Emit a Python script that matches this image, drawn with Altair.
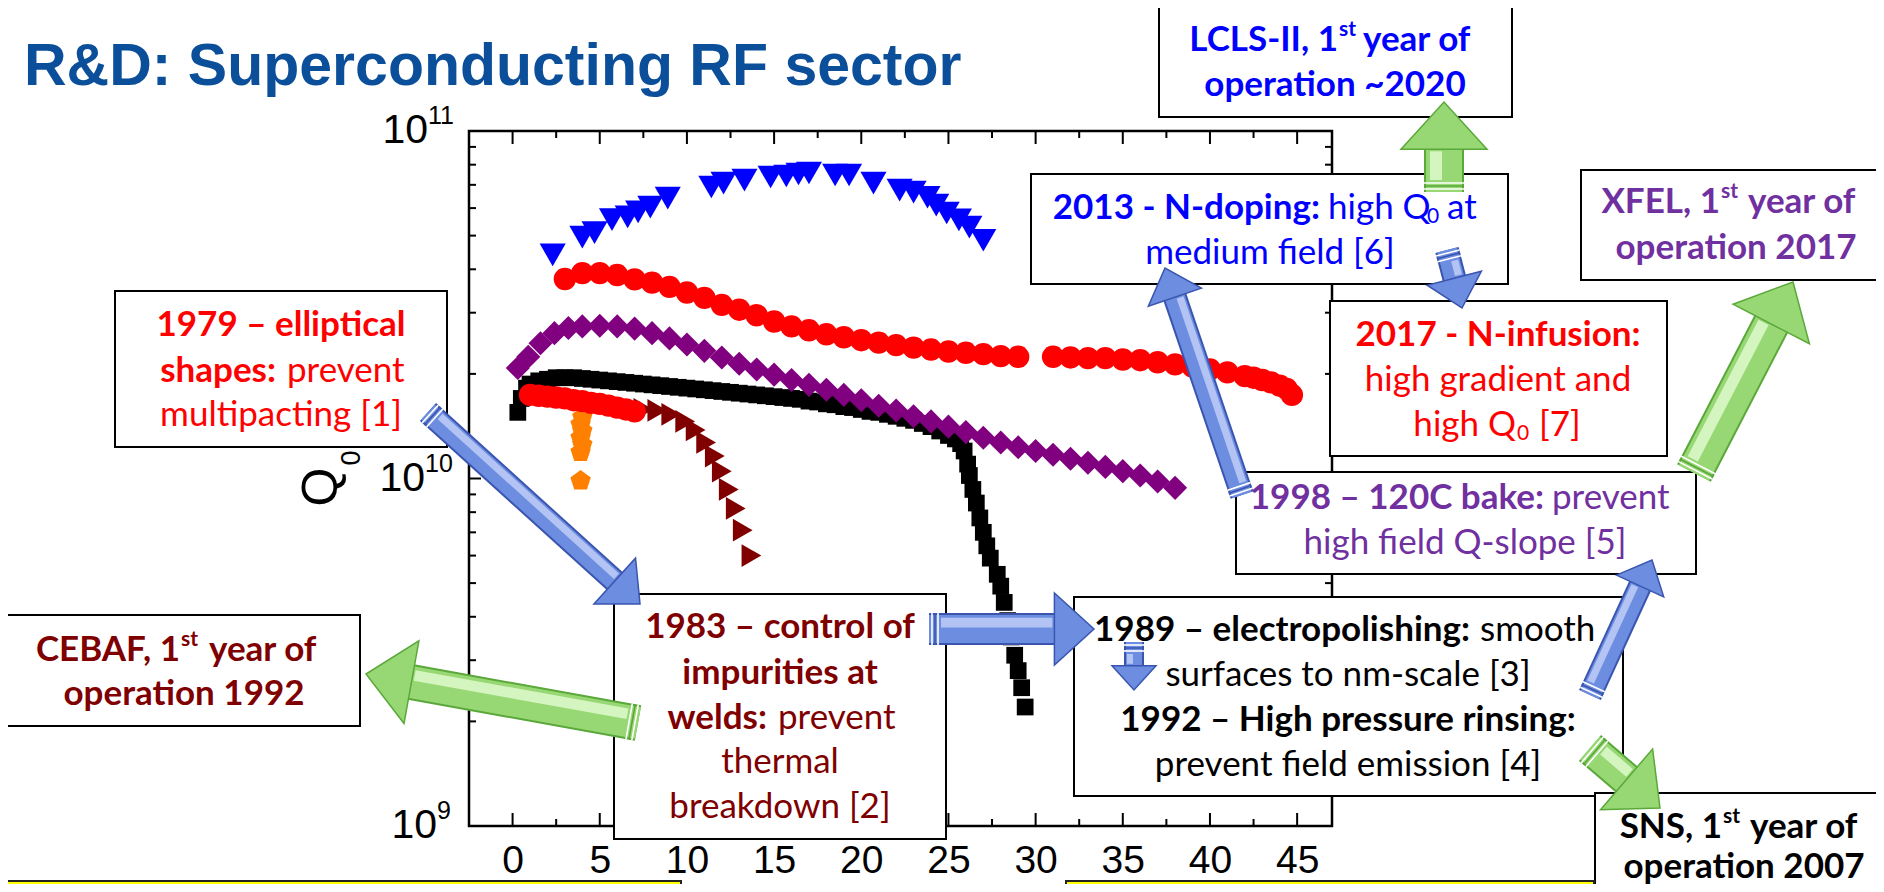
import math
import altair as alt
import pandas as pd

# ---------------- data (Q in units of 1e10) ----------------
UNIT = 1e10

blue_E = [2.3, 4.0, 4.7, 5.7, 6.6, 7.2, 7.9, 8.9, 11.4, 12.1, 13.3, 14.8, 15.7, 16.4, 17.0,
          18.5, 19.3, 20.7, 22.2, 23.0, 23.8, 24.3, 24.9, 25.6, 26.2, 27.0]
blue_Q = [4.40, 4.95, 5.10, 5.56, 5.66, 5.85, 6.04, 6.41, 6.90, 7.08, 7.22, 7.37, 7.42, 7.52, 7.57,
          7.47, 7.47, 7.08, 6.76, 6.67, 6.45, 6.12, 5.81, 5.55, 5.29, 4.85]

red_hi_E = [3, 4, 5, 6, 7, 8, 9, 10, 11, 12, 13, 14, 15, 16, 17, 18, 19, 20, 21, 22, 23, 24, 25,
            26, 27, 28, 29, 31, 32, 33, 34, 35, 36, 37, 38, 39, 40, 41, 42, 42.5, 43, 43.5, 44,
            44.4, 44.7]
red_hi_Q = [3.75, 3.90, 3.90, 3.85, 3.74, 3.66, 3.56, 3.43, 3.31, 3.16, 3.06, 2.95, 2.83, 2.74,
            2.67, 2.60, 2.55, 2.50, 2.46, 2.42, 2.38, 2.35, 2.32, 2.30, 2.28, 2.25, 2.24, 2.24,
            2.23, 2.22, 2.22, 2.20, 2.19, 2.16, 2.13, 2.10, 2.06, 2.02, 1.97, 1.95, 1.92, 1.89,
            1.85, 1.81, 1.74]

purple_E = [0.3, 0.9, 1.6, 2.4, 3.2, 4, 5, 6, 7, 8, 9, 10, 11, 12, 13, 14, 15, 16, 17, 18, 19,
            20, 21, 22, 23, 24, 25, 26, 27, 28, 29, 30, 31, 32, 33, 34, 35, 36, 37, 38]
purple_Q = [2.08, 2.24, 2.45, 2.62, 2.71, 2.74, 2.75, 2.74, 2.70, 2.62, 2.53, 2.43, 2.33, 2.23,
            2.14, 2.06, 1.99, 1.92, 1.86, 1.80, 1.74, 1.68, 1.62, 1.57, 1.51, 1.46, 1.41, 1.36,
            1.31, 1.27, 1.23, 1.20, 1.17, 1.14, 1.11, 1.08, 1.05, 1.02, 0.98, 0.94]

black_E = [0.3, 0.5, 0.8, 1.0, 1.5, 2.0, 2.5, 3.0, 3.5, 4.0, 4.5, 5.0, 5.5, 6.0, 6.5, 7.0, 7.5,
           8.0, 8.5, 9.0, 9.5, 10.0, 10.5, 11.0, 11.5, 12.0, 12.5, 13.0, 13.5, 14.0, 14.5, 15.0,
           15.5, 16.0, 16.5, 17.0, 17.5, 18.0, 18.5, 19.0, 19.5, 20.0, 20.5, 21.0, 21.5, 22.0,
           22.5, 23.0, 23.5, 24.0, 24.5, 25.0, 25.4, 25.7, 25.9, 26.1, 26.2, 26.4, 26.6, 26.8,
           27.0, 27.2, 27.4, 27.8, 28.0, 28.2, 28.4, 28.6, 28.8, 29.0, 29.2, 29.4]
black_Q = [1.55, 1.70, 1.82, 1.87, 1.91, 1.93, 1.95, 1.95, 1.95, 1.94, 1.93, 1.92, 1.91, 1.90,
           1.89, 1.88, 1.87, 1.86, 1.85, 1.84, 1.83, 1.82, 1.81, 1.80, 1.79, 1.78, 1.77, 1.76,
           1.75, 1.74, 1.73, 1.72, 1.71, 1.70, 1.69, 1.67, 1.66, 1.64, 1.63, 1.61, 1.60, 1.58,
           1.56, 1.55, 1.53, 1.51, 1.49, 1.47, 1.44, 1.41, 1.37, 1.33, 1.30, 1.26, 1.20, 1.10,
           1.02, 0.93, 0.85, 0.77, 0.70, 0.64, 0.59, 0.53, 0.49, 0.44, 0.39, 0.35, 0.31, 0.28,
           0.25, 0.22]

red_lo_E = [1.0, 1.5, 2.0, 2.5, 3.0, 3.5, 4.0, 4.5, 5.0, 5.5, 6.0, 6.5, 7.0]
red_lo_Q = [1.74, 1.73, 1.72, 1.71, 1.70, 1.68, 1.67, 1.65, 1.64, 1.62, 1.60, 1.58, 1.56]

orange_E = [4.0, 3.9, 4.0, 3.9, 4.0, 3.9, 3.9]
orange_Q = [1.50, 1.43, 1.37, 1.31, 1.25, 1.19, 0.985]

dred_E = [7.5, 8.3, 9.1, 9.9, 10.5, 11.1, 11.6, 12.0, 12.4, 12.8, 13.2, 13.7]
dred_Q = [1.58, 1.57, 1.53, 1.46, 1.38, 1.27, 1.16, 1.05, 0.93, 0.82, 0.71, 0.60]

X_TICKS = [0, 5, 10, 15, 20, 25, 30, 35, 40, 45]
X_MINOR = [2.5, 7.5, 12.5, 17.5, 22.5, 27.5, 32.5, 37.5, 42.5]
Y_MAJOR = [1e10]
Y_MINOR = [2e9, 3e9, 4e9, 5e9, 6e9, 7e9, 8e9, 9e9, 2e10, 3e10, 4e10, 5e10, 6e10, 7e10, 8e10, 9e10]
Y_LABEL_Q = [1e9, 1e10, 1e11]
Y_LABEL_EXP = ["9", "10", "11"]

TITLE = "R&D: Superconducting RF sector"

# ---------------- layout / style ----------------
W, H = 863, 695
OX, OY = 469, 131          # plot origin in page pixels
CANVAS_W, CANVAS_H = 1868, 876


def rx(v):
    return v - OX


def ry(v):
    return v - OY


RED, DRED, BLUE, PURP, BLK = "#ff0000", "#7f0000", "#0000ff", "#7030a0", "#000000"
FS, SUP = 35, 21
BOXFONT = "Lato"
AXFONT = "Liberation Sans"

xscale = alt.Scale(domain=[-2.5, 47], nice=False, zero=False)
yscale = alt.Scale(type="log", domain=[1e9, 1e11], nice=False)
xaxis = alt.Axis(values=X_TICKS, labelFontSize=39, labelFont=AXFONT, labelColor="black",
                 ticks=False, domain=False, grid=False, labelPadding=15, title=None,
                 format="d", labelFlush=False)
X = alt.X("E:Q", scale=xscale, axis=xaxis)
Y = alt.Y("Q:Q", scale=yscale, axis=None)

PENTAGON = "M0,-1L0.951,-0.309L0.588,0.809L-0.588,0.809L-0.951,-0.309Z"
HEAD = "M-0.55,-1L0.55,0L-0.55,1Z"
HEAD_RATIO = 0.55


def series(E, Q, shape, color, size):
    df = pd.DataFrame({"E": E, "Q": [q * UNIT for q in Q]})
    return alt.Chart(df).mark_point(shape=shape, filled=True, color=color, size=size,
                                    opacity=1, strokeWidth=0).encode(x=X, y=Y)


layers = []


def xticks(vals, length, top):
    df = pd.DataFrame({"E": vals})
    y0, y1 = (0, length) if top else (H, H - length)
    return alt.Chart(df).mark_rule(color="black", strokeWidth=2).encode(
        x=X, y=alt.value(y0), y2=alt.value(y1))


def yticks(vals, length, right):
    df = pd.DataFrame({"Q": vals})
    x0, x1 = (W, W - length) if right else (0, length)
    return alt.Chart(df).mark_rule(color="black", strokeWidth=2).encode(
        y=Y, x=alt.value(x0), x2=alt.value(x1))


layers += [xticks(X_TICKS, 13, False), xticks(X_TICKS, 13, True),
           xticks(X_MINOR, 7, False), xticks(X_MINOR, 7, True),
           yticks(Y_MAJOR, 12, False), yticks(Y_MAJOR, 12, True),
           yticks(Y_MINOR, 7, False), yticks(Y_MINOR, 7, True)]

layers += [
    series(black_E, black_Q, "square", "#000000", 280),
    series(purple_E, purple_Q, "diamond", "#800080", 580),
    series(blue_E, blue_Q, "triangle-down", "#0000ff", 680),
    series(red_hi_E, red_hi_Q, "circle", "#ff0000", 500),
    series(orange_E, orange_Q, PENTAGON, "#ff8000", 460),
    series(dred_E, dred_Q, "triangle-right", "#800000", 520),
    series(red_lo_E, red_lo_Q, "circle", "#ff0000", 500),
]

# y tick labels (10^n) and axis title
ylab = pd.DataFrame({"Q": Y_LABEL_Q, "base": ["10"] * 3, "exp": Y_LABEL_EXP,
                     "lx": [rx(437), rx(425), rx(428)]})
layers.append(alt.Chart(ylab).mark_text(align="right", baseline="middle", font=AXFONT,
                                        fontSize=41, color="black").encode(
    x=alt.X("lx:Q", scale=None), y=Y, text="base:N"))
layers.append(alt.Chart(ylab).mark_text(align="left", baseline="middle", font=AXFONT,
                                        fontSize=25, color="black", dy=-15).encode(
    x=alt.X("lx:Q", scale=None), y=Y, text="exp:N"))

one = pd.DataFrame({"a": [0]})
layers.append(alt.Chart(one).mark_text(text="Q", angle=270, font=AXFONT, fontSize=50,
                                       baseline="middle", align="center", color="black").encode(
    x=alt.value(rx(322)), y=alt.value(ry(487))))
layers.append(alt.Chart(one).mark_text(text="0", angle=270, font=AXFONT, fontSize=27,
                                       baseline="middle", align="center", color="black").encode(
    x=alt.value(rx(352)), y=alt.value(ry(458))))

# annotation boxes (page pixels: x0, y0, x1, y1)
BOXES = [(115, 291, 447, 447), (7, 615, 360, 726), (614, 594, 946, 839),
         (1074, 597, 1623, 796), (1236, 472, 1696, 574), (1031, 174, 1508, 284),
         (1330, 301, 1667, 456), (1159, 6, 1512, 117), (1581, 170, 1900, 280),
         (1595, 793, 1900, 900)]
bdf = pd.DataFrame({"x0": [rx(b[0]) for b in BOXES], "y0": [ry(b[1]) for b in BOXES],
                    "x1": [rx(b[2]) for b in BOXES], "y1": [ry(b[3]) for b in BOXES]})
layers.append(alt.Chart(bdf).mark_rect(fill="white", stroke="black", strokeWidth=2).encode(
    x=alt.X("x0:Q", scale=None), x2="x1:Q", y=alt.Y("y0:Q", scale=None), y2="y1:Q"))

YELLOW = [(-5, 881, 681, 900), (1066, 881, 1594, 900)]
ydf = pd.DataFrame({"x0": [rx(b[0]) for b in YELLOW], "y0": [ry(b[1]) for b in YELLOW],
                    "x1": [rx(b[2]) for b in YELLOW], "y1": [ry(b[3]) for b in YELLOW]})
layers.append(alt.Chart(ydf).mark_rect(fill="#ffff00", stroke="#222222", strokeWidth=2).encode(
    x=alt.X("x0:Q", scale=None), x2="x1:Q", y=alt.Y("y0:Q", scale=None), y2="y1:Q"))

# arrows: tail x, tail y, tip x, tip y, shaft width, head width, palette
ARROWS = [(428, 412, 640, 604, 24, 62, "blue"), (929, 629, 1094, 629, 32, 72, "blue"),
          (1134, 642, 1134, 690, 20, 44, "blue"), (1590, 695, 1652, 560, 24, 52, "blue"),
          (1242, 495, 1165, 268, 24, 56, "blue"), (1447, 250, 1462, 308, 24, 56, "blue"),
          (638, 723, 366, 674, 36, 84, "green"), (1444, 192, 1444, 102, 40, 86, "green"),
          (1694, 473, 1793, 282, 38, 86, "green"), (1590, 748, 1660, 808, 34, 80, "green")]
PAL = {"blue": ("#3a55b0", "#6d8ee0", "#b3c4f4"), "green": ("#5aa83a", "#98d874", "#d4f5bf")}

edge, mid, hil, heads, stripes = [], [], [], [], []
sid = 0
for i, (tx, ty, hx, hy, sw, hw, kind) in enumerate(ARROWS):
    dx, dy = hx - tx, hy - ty
    L = math.hypot(dx, dy)
    ux, uy = dx / L, dy / L
    hl = HEAD_RATIO * hw
    bx, by = hx - ux * (hl - 2), hy - uy * (hl - 2)
    dark, med, light = PAL[kind]
    for o, (px, py) in enumerate([(tx, ty), (bx, by)]):
        edge.append(dict(id=i, o=o, x=rx(px), y=ry(py), sw=sw, c=dark))
        mid.append(dict(id=i, o=o, x=rx(px), y=ry(py), sw=sw - 4, c=med))
    n1 = (-uy, ux)
    n2 = (uy, -ux)
    if abs(n1[1] - n2[1]) < 1e-6:
        n = n1 if n1[0] < 0 else n2
    else:
        n = n1 if n1[1] < n2[1] else n2
    off = 0.2 * sw
    for o, (px, py) in enumerate([(tx + ux * 12, ty + uy * 12), (bx - ux * 4, by - uy * 4)]):
        hil.append(dict(id=i, o=o, x=rx(px + n[0] * off), y=ry(py + n[1] * off),
                        sw=0.3 * sw, c=light))
    # decorative tail stripes
    for d, col in [(3, "#ffffff"), (6, dark), (9, "#ffffff")]:
        cxs, cys = tx + ux * d, ty + uy * d
        for o, sgn in enumerate([1, -1]):
            stripes.append(dict(id=sid, o=o, x=rx(cxs + sgn * n[0] * sw / 2),
                                y=ry(cys + sgn * n[1] * sw / 2), sw=1.6, c=col))
        sid += 1
    cx, cy = hx - ux * hl / 2, hy - uy * hl / 2
    ang = math.degrees(math.atan2(dy, dx)) % 360
    heads.append(dict(x=rx(cx), y=ry(cy), ang=ang, sz=hw * hw, f=med, s=dark))


def shaft(rows):
    return alt.Chart(pd.DataFrame(rows)).mark_line(strokeCap="butt").encode(
        x=alt.X("x:Q", scale=None), y=alt.Y("y:Q", scale=None), detail="id:N",
        order="o:Q", strokeWidth=alt.StrokeWidth("sw:Q", scale=None),
        color=alt.Color("c:N", scale=None))


layers += [shaft(edge), shaft(mid), shaft(hil), shaft(stripes)]
layers.append(alt.Chart(pd.DataFrame(heads)).mark_point(shape=HEAD, filled=True, opacity=1,
                                                        strokeWidth=1.5).encode(
    x=alt.X("x:Q", scale=None), y=alt.Y("y:Q", scale=None),
    angle=alt.Angle("ang:Q", scale=None), size=alt.Size("sz:Q", scale=None),
    fill=alt.Fill("f:N", scale=None), stroke=alt.Stroke("s:N", scale=None)))

# texts (page pixels)
TEXTS = [
    ("1979 – elliptical", 281, 325, "bold", "center", RED, FS),
    ("shapes:", 276, 371, "bold", "right", RED, FS),
    ("prevent", 287, 371, "normal", "left", RED, FS),
    ("multipacting [1]", 281, 415, "normal", "center", RED, FS),
    ("CEBAF, 1", 180, 650, "bold", "right", DRED, FS),
    ("st", 181, 640, "bold", "left", DRED, SUP),
    ("year of", 209, 650, "bold", "left", DRED, FS),
    ("operation 1992", 184, 694, "bold", "center", DRED, FS),
    ("1983 – control of", 780, 627, "bold", "center", DRED, FS),
    ("impurities at", 780, 673, "bold", "center", DRED, FS),
    ("welds:", 767, 718, "bold", "right", DRED, FS),
    ("prevent", 778, 718, "normal", "left", DRED, FS),
    ("thermal", 780, 762, "normal", "center", DRED, FS),
    ("breakdown [2]", 780, 807, "normal", "center", DRED, FS),
    ("1989 – electropolishing:", 1470, 630, "bold", "right", BLK, FS),
    ("smooth", 1480, 630, "normal", "left", BLK, FS),
    ("surfaces to nm-scale [3]", 1348, 675, "normal", "center", BLK, FS),
    ("1992 – High pressure rinsing:", 1348, 720, "bold", "center", BLK, FS),
    ("prevent field emission [4]", 1348, 765, "normal", "center", BLK, FS),
    ("1998 – 120C bake:", 1544, 498, "bold", "right", PURP, FS),
    ("prevent", 1552, 498, "normal", "left", PURP, FS),
    ("high field Q-slope [5]", 1465, 543, "normal", "center", PURP, FS),
    ("2013 - N-doping:", 1320, 208, "bold", "right", BLUE, FS),
    ("high Q", 1328, 208, "normal", "left", BLUE, FS),
    ("0", 1427, 217, "normal", "left", BLUE, SUP),
    ("at", 1447, 208, "normal", "left", BLUE, FS),
    ("medium field [6]", 1270, 253, "normal", "center", BLUE, FS),
    ("2017 - N-infusion:", 1498, 335, "bold", "center", RED, FS),
    ("high gradient and", 1498, 380, "normal", "center", RED, FS),
    ("high Q", 1516, 425, "normal", "right", RED, FS),
    ("0", 1517, 434, "normal", "left", RED, SUP),
    ("[7]", 1539, 425, "normal", "left", RED, FS),
    ("LCLS-II, 1", 1338, 40, "bold", "right", BLUE, FS),
    ("st", 1339, 30, "bold", "left", BLUE, SUP),
    ("year of", 1363, 40, "bold", "left", BLUE, FS),
    ("operation ~2020", 1335, 85, "bold", "center", BLUE, FS),
    ("XFEL, 1", 1720, 202, "bold", "right", PURP, FS),
    ("st", 1721, 192, "bold", "left", PURP, SUP),
    ("year of", 1748, 202, "bold", "left", PURP, FS),
    ("operation 2017", 1736, 248, "bold", "center", PURP, FS),
    ("SNS, 1", 1722, 827, "bold", "right", BLK, FS),
    ("st", 1723, 817, "bold", "left", BLK, SUP),
    ("year of", 1750, 827, "bold", "left", BLK, FS),
    ("operation 2007", 1744, 867, "bold", "center", BLK, FS),
]
tdf = pd.DataFrame(TEXTS, columns=["t", "x", "y", "w", "a", "c", "s"])
tdf["x"] = tdf["x"].map(rx)
tdf["y"] = tdf["y"].map(ry)
for w in ["bold", "normal"]:
    for a in ["left", "center", "right"]:
        sub = tdf[(tdf.w == w) & (tdf.a == a)]
        if len(sub) == 0:
            continue
        layers.append(alt.Chart(sub).mark_text(font=BOXFONT, fontWeight=w, align=a,
                                               baseline="middle").encode(
            x=alt.X("x:Q", scale=None), y=alt.Y("y:Q", scale=None), text="t:N",
            color=alt.Color("c:N", scale=None), size=alt.Size("s:Q", scale=None)))

# slide title
layers.append(alt.Chart(one).mark_text(text=TITLE, font=AXFONT, fontWeight="bold", fontSize=59,
                                       align="left", baseline="alphabetic",
                                       color="#0b4f9a").encode(
    x=alt.value(rx(24)), y=alt.value(ry(85))))

chart = alt.layer(*layers).properties(
    width=W, height=H,
    padding={"left": OX - 8, "top": OY - 8, "right": CANVAS_W - (OX - 8) - W,
             "bottom": CANVAS_H - (OY - 8) - H},
    autosize=alt.AutoSizeParams(type="none"),
    background="white",
).configure_view(stroke="black", strokeWidth=2.5)

chart.save("out.html", embed_options={"renderer": "svg", "actions": False})
